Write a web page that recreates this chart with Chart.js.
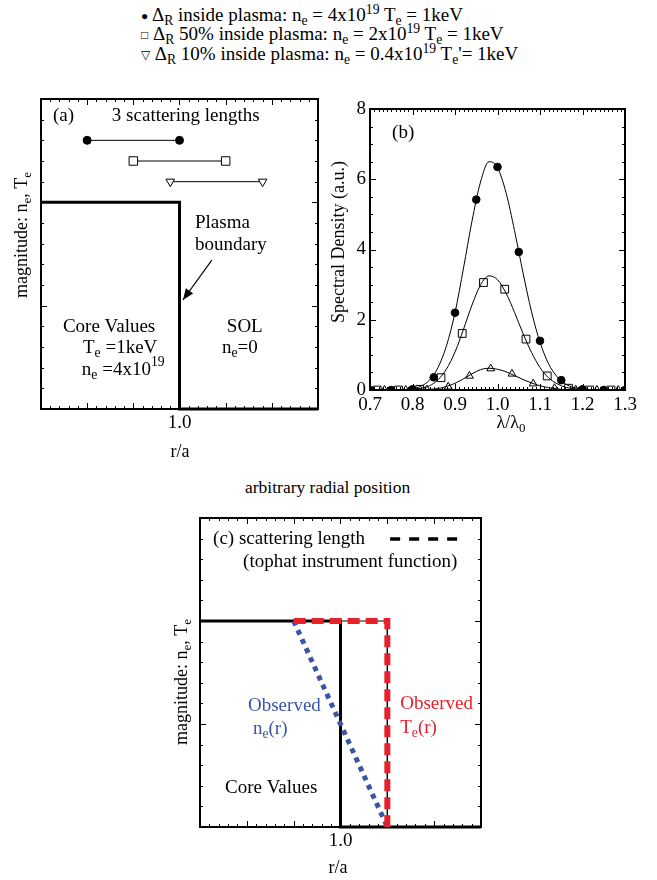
<!DOCTYPE html>
<html>
<head>
<meta charset="utf-8">
<script src="https://cdn.jsdelivr.net/npm/chart.js@4.4.1/dist/chart.umd.min.js"></script>
<style>
  body { margin: 0; background: #fff; }
  #fig { position: relative; width: 657px; height: 880px; font-family: "Liberation Serif", "Times New Roman", serif; color: #000; }
  #fig canvas { position: absolute; }
  .txt { position: absolute; font-size: 17.5px; white-space: nowrap; line-height: 18.5px; }
  .txt sub, .txt sup { font-size: 72%; line-height: 0; }
  .txt sub { vertical-align: -0.3em; }
  .txt sup { vertical-align: 0.5em; }
  .txt .mk { font-size: 12px; vertical-align: 0.1em; }
  #legend { font-size: 19px; }
</style>
</head>
<body>
<div id="fig">
  <div class="txt" id="legend" style="left:141px; top:6px;">
    <span class="mk">●</span> Δ<sub>R</sub> inside plasma: n<sub>e</sub> = 4x10<sup>19</sup> T<sub>e</sub> = 1keV<br>
    <span class="mk">□</span> Δ<sub>R</sub> 50% inside plasma: n<sub>e</sub> = 2x10<sup>19</sup> T<sub>e</sub> = 1keV<br>
    <span class="mk">▽</span> Δ<sub>R</sub> 10% inside plasma: n<sub>e</sub> = 0.4x10<sup>19</sup> T<sub>e</sub>'= 1keV
  </div>
  <div class="txt" style="left:245px; top:478px;">arbitrary radial position</div>
  <canvas id="chartA" width="335" height="390" style="left:0; top:80px;"></canvas>
  <canvas id="chartB" width="337" height="390" style="left:320px; top:90px;"></canvas>
  <canvas id="chartC" width="350" height="380" style="left:150px; top:500px;"></canvas>
</div>
<script>
// ---- panel (a): step profile + the three scattering lengths
const PROFILE_R = [0.4, 1.0, 1.0, 1.6];
const PROFILE_A = [2, 2, 0, 0];
const SPAN_IN_R = [0.6, 1.0];
const SPAN_HALF_R = [0.8, 1.2];
const SPAN_TENTH_R = [0.96, 1.36];
const SPAN_LEVELS = [2.6, 2.4, 2.2];
const ARROW_R = [1.14, 1.015];
const ARROW_Y = [1.44, 1.055];

// ---- panel (b): spectra
const LAMBDA_FIT = [0.70, 0.72, 0.74, 0.76, 0.78, 0.80, 0.82, 0.84, 0.86, 0.88, 0.90, 0.92, 0.94, 0.96, 0.98,
  1.00, 1.02, 1.04, 1.06, 1.08, 1.10, 1.12, 1.14, 1.16, 1.18, 1.20, 1.22, 1.24, 1.26, 1.28, 1.30];
const FIT_INSIDE = [0, 0, 0, 0, 0.01, 0.04, 0.11, 0.28, 0.64, 1.26, 2.20, 3.47, 4.81, 5.92, 6.50,
  6.33, 5.62, 4.54, 3.34, 2.23, 1.36, 0.75, 0.38, 0.17, 0.07, 0.03, 0.01, 0, 0, 0, 0];
const FIT_HALF = [0, 0, 0, 0, 0.01, 0.02, 0.05, 0.12, 0.29, 0.60, 1.08, 1.73, 2.42, 2.99, 3.25,
  3.14, 2.76, 2.21, 1.61, 1.07, 0.64, 0.35, 0.18, 0.08, 0.03, 0.01, 0, 0, 0, 0, 0];
const FIT_TENTH = [0, 0, 0, 0, 0, 0, 0.01, 0.02, 0.04, 0.10, 0.19, 0.32, 0.46, 0.58, 0.62,
  0.59, 0.52, 0.41, 0.30, 0.20, 0.12, 0.07, 0.03, 0.01, 0, 0, 0, 0, 0, 0, 0];
const LAMBDA_INSIDE = [0.70, 0.75, 0.80, 0.85, 0.90, 0.95, 1.00, 1.05, 1.10, 1.15, 1.20, 1.25, 1.30];
const DENS_INSIDE = [0, 0, 0.02, 0.36, 2.2, 5.42, 6.35, 3.93, 1.4, 0.28, 0.02, 0, 0];
const LAMBDA_HALF = [0.717, 0.767, 0.817, 0.867, 0.917, 0.967, 1.017, 1.067, 1.117, 1.167, 1.217, 1.267];
const DENS_HALF = [0, 0, 0.02, 0.35, 1.61, 3.06, 2.87, 1.45, 0.40, 0.05, 0, 0];
const LAMBDA_TENTH = [0.734, 0.784, 0.834, 0.884, 0.934, 0.984, 1.034, 1.084, 1.134, 1.184, 1.234, 1.284];
const DENS_TENTH = [0, 0, 0.01, 0.09, 0.40, 0.61, 0.46, 0.18, 0.05, 0.01, 0, 0];

// ---- panel (c): observed profiles
const PROFILE_C_R = [0.4, 1.0, 1.0, 1.6];
const PROFILE_C = [2, 2, 0, 0];
const TE_OBS_R = [0.8, 1.2, 1.2];
const TE_OBS = [2, 2, 0];
const NE_OBS_R = [0.8, 1.2];
const NE_OBS = [2, 0];
const KEY_R = [1.212, 1.532];
const KEY_Y = [2.796, 2.796];

// tick labels
const R_LABELS = ['1.0'];
const LAMBDA_LABELS = ['0.7', '0.8', '0.9', '1.0', '1.1', '1.2', '1.3'];
const DENS_LABELS = ['0', '2', '4', '6', '8'];

const FONT = '"Liberation Serif", "Times New Roman", serif';
const NOTE_SIZE = 19;
const TITLE_SIZE = 18;
const TICK_SIZE = 19;
const xy = (xs, ys) => xs.map((x, i) => ({ x: x, y: ys[i] }));
const flat = (xs, level) => xs.map(x => ({ x: x, y: level }));

// "n_{e}=4x10^{19}" -> pieces with sub / sup
function parseRich(s) {
  return s.split(/(_\{[^}]*\}|\^\{[^}]*\})/).filter(Boolean).map(p =>
    p.startsWith('_{') ? [p.slice(2, -1), 'sub'] : p.startsWith('^{') ? [p.slice(2, -1), 'sup'] : [p, '']);
}

function drawRich(ctx, s, x, y, size, color, align, rot) {
  const parts = parseRich(s);
  const fontFor = k => (k ? size * 0.72 : size) + 'px ' + FONT;
  let w = 0;
  parts.forEach(([t, k]) => { ctx.font = fontFor(k); w += ctx.measureText(t).width; });
  ctx.save();
  ctx.translate(x, y);
  ctx.rotate(rot || 0);
  ctx.fillStyle = color;
  ctx.textBaseline = 'middle';
  ctx.textAlign = 'left';
  let cx = align === 'center' ? -w / 2 : 0;
  parts.forEach(([t, k]) => {
    ctx.font = fontFor(k);
    const dy = k === 'sub' ? size * 0.3 : k === 'sup' ? -size * 0.4 : 0;
    ctx.fillText(t, cx, dy);
    cx += ctx.measureText(t).width;
  });
  ctx.restore();
}

// frame, inward ticks on all 4 sides, arrow heads, text notes
function decor(cfg) {
  return {
    id: 'decor',
    beforeDatasetsDraw(chart) {
      const { ctx, chartArea: a, scales: { x, y } } = chart;
      ctx.save();
      ctx.strokeStyle = '#000';
      ctx.lineWidth = 1;
      const marks = (scale, step, len, horizontal) => {
        const i0 = Math.ceil(scale.min / step - 1e-6), i1 = Math.floor(scale.max / step + 1e-6);
        for (let i = i0; i <= i1; i++) {
          const p = Math.round(scale.getPixelForValue(i * step)) + 0.5;
          ctx.beginPath();
          if (horizontal) {
            ctx.moveTo(p, a.bottom); ctx.lineTo(p, a.bottom - len);
            ctx.moveTo(p, a.top); ctx.lineTo(p, a.top + len);
          } else {
            ctx.moveTo(a.left, p); ctx.lineTo(a.left + len, p);
            ctx.moveTo(a.right, p); ctx.lineTo(a.right - len, p);
          }
          ctx.stroke();
        }
      };
      marks(x, cfg.xMinor, 3, true);
      marks(x, cfg.xMajor, 6, true);
      marks(y, cfg.yMinor, 3, false);
      marks(y, cfg.yMajor, 6, false);
      ctx.lineWidth = 2;
      ctx.strokeRect(a.left, a.top, a.right - a.left, a.bottom - a.top);
      ctx.restore();
    },
    afterDatasetsDraw(chart) {
      const { ctx, scales: { x, y } } = chart;
      chart.data.datasets.forEach(ds => {
        if (!ds.arrowHead) return;
        const [p, q] = ds.data.slice(-2);
        const x0 = x.getPixelForValue(p.x), y0 = y.getPixelForValue(p.y);
        const x1 = x.getPixelForValue(q.x), y1 = y.getPixelForValue(q.y);
        const ang = Math.atan2(y1 - y0, x1 - x0);
        ctx.save();
        ctx.fillStyle = '#000';
        ctx.beginPath();
        ctx.moveTo(x1, y1);
        ctx.lineTo(x1 - 12 * Math.cos(ang - 0.38), y1 - 12 * Math.sin(ang - 0.38));
        ctx.lineTo(x1 - 12 * Math.cos(ang + 0.38), y1 - 12 * Math.sin(ang + 0.38));
        ctx.closePath();
        ctx.fill();
        ctx.restore();
      });
      (cfg.notes || []).forEach(n =>
        drawRich(ctx, n.text, x.getPixelForValue(n.x), y.getPixelForValue(n.y), NOTE_SIZE, n.color || '#000', 'left', 0));
      (cfg.titles || []).forEach(t => drawRich(ctx, t.text, t.x, t.y, TITLE_SIZE, '#000', 'center', t.rot || 0));
    }
  };
}

function baseOptions(pad, yWidth, xHeight) {
  return {
    responsive: false,
    animation: false,
    events: [],
    layout: { padding: pad },
    plugins: { legend: { display: false }, tooltip: { enabled: false } },
    scales: {
      x: {
        type: 'linear',
        afterFit: s => { s.height = xHeight; },
        grid: { display: false, drawTicks: false },
        border: { display: false },
        ticks: { font: { family: FONT, size: TICK_SIZE }, color: '#000', maxRotation: 0, autoSkip: false }
      },
      y: {
        type: 'linear',
        afterFit: s => { s.width = yWidth; },
        grid: { display: false, drawTicks: false },
        border: { display: false },
        ticks: { font: { family: FONT, size: TICK_SIZE }, color: '#000', autoSkip: false }
      }
    }
  };
}

const rLabel = v => { const t = v.toFixed(1); return R_LABELS.includes(t) ? t : ''; };

// ---------- (a)
const optA = baseOptions({ top: 19, right: 17, left: 0, bottom: 0 }, 41, 61);
Object.assign(optA.scales.x, { min: 0.4, max: 1.6 });
Object.assign(optA.scales.x.ticks, { stepSize: 0.2, callback: rLabel, padding: 3 });
Object.assign(optA.scales.y, { min: 0, max: 3 });
optA.scales.y.ticks.display = false;

new Chart(document.getElementById('chartA'), {
  type: 'scatter',
  data: {
    datasets: [
      { data: xy(PROFILE_R, PROFILE_A), showLine: true, borderColor: '#000', borderWidth: 3, pointRadius: 0, clip: false },
      { data: flat(SPAN_IN_R, SPAN_LEVELS[0]), showLine: true, borderColor: '#000', borderWidth: 1,
        pointStyle: 'circle', pointRadius: 4, pointBackgroundColor: '#000', pointBorderColor: '#000' },
      { data: flat(SPAN_HALF_R, SPAN_LEVELS[1]), showLine: true, borderColor: '#000', borderWidth: 1,
        pointStyle: 'rect', pointRadius: 6, pointBackgroundColor: '#fff', pointBorderColor: '#000', pointBorderWidth: 1 },
      { data: flat(SPAN_TENTH_R, SPAN_LEVELS[2]), showLine: true, borderColor: '#000', borderWidth: 1,
        pointStyle: 'triangle', pointRotation: 180, pointRadius: 5, pointBackgroundColor: '#fff', pointBorderColor: '#000', pointBorderWidth: 1 },
      { data: xy(ARROW_R, ARROW_Y), arrowHead: true, showLine: true, borderColor: '#000', borderWidth: 1.2, pointRadius: 0 }
    ]
  },
  options: optA,
  plugins: [decor({
    xMinor: 0.04, xMajor: 0.2, yMinor: 0.2, yMajor: 1,
    notes: [
      { text: '(a)', x: 0.452, y: 2.836 },
      { text: '3 scattering lengths', x: 0.707, y: 2.836 },
      { text: 'Plasma', x: 1.067, y: 1.80 },
      { text: 'boundary', x: 1.067, y: 1.588 },
      { text: 'Core Values', x: 0.495, y: 0.794 },
      { text: 'T_{e} =1keV', x: 0.582, y: 0.59 },
      { text: 'n_{e} =4x10^{19}', x: 0.577, y: 0.378 },
      { text: 'SOL', x: 1.205, y: 0.794 },
      { text: 'n_{e}=0', x: 1.184, y: 0.59 }
    ],
    titles: [
      { text: 'magnitude: n_{e}, T_{e}', x: 22, y: 155, rot: -Math.PI / 2 },
      { text: 'r/a', x: 180, y: 372 }
    ]
  })]
});

// ---------- (b)
const optB = baseOptions({ top: 19, right: 32, left: 0, bottom: 0 }, 50, 90);
Object.assign(optB.scales.x, { min: 0.7, max: 1.3 });
Object.assign(optB.scales.x.ticks, { stepSize: 0.1, padding: 4,
  callback: v => { const t = v.toFixed(1); return LAMBDA_LABELS.includes(t) ? t : ''; } });
Object.assign(optB.scales.y, { min: 0, max: 8 });
Object.assign(optB.scales.y.ticks, { stepSize: 2, padding: 4,
  callback: v => { const t = String(Math.round(v)); return DENS_LABELS.includes(t) ? t : ''; } });

const fitLine = ys => ({ data: xy(LAMBDA_FIT, ys), showLine: true, borderColor: '#000', borderWidth: 1,
  pointRadius: 0, cubicInterpolationMode: 'monotone' });

new Chart(document.getElementById('chartB'), {
  type: 'scatter',
  data: {
    datasets: [
      fitLine(FIT_INSIDE),
      fitLine(FIT_HALF),
      fitLine(FIT_TENTH),
      { data: xy(LAMBDA_INSIDE, DENS_INSIDE), pointStyle: 'circle', pointRadius: 3.8,
        pointBackgroundColor: '#000', pointBorderColor: '#000' },
      { data: xy(LAMBDA_HALF, DENS_HALF), pointStyle: 'rect', pointRadius: 5.5,
        pointBackgroundColor: 'rgba(255,255,255,0)', pointBorderColor: '#000', pointBorderWidth: 1 },
      { data: xy(LAMBDA_TENTH, DENS_TENTH), pointStyle: 'triangle', pointRadius: 4.5,
        pointBackgroundColor: 'rgba(255,255,255,0)', pointBorderColor: '#000', pointBorderWidth: 1 }
    ]
  },
  options: optB,
  plugins: [decor({
    xMinor: 0.01, xMajor: 0.1, yMinor: 0.5, yMajor: 2,
    notes: [{ text: '(b)', x: 0.752, y: 7.31 }],
    titles: [
      { text: 'Spectral Density (a.u.)', x: 19, y: 152, rot: -Math.PI / 2 },
      { text: 'λ/λ_{0}', x: 191, y: 333 }
    ]
  })]
});

// ---------- (c)
const optC = baseOptions({ top: 18, right: 19, left: 0, bottom: 0 }, 50, 53);
Object.assign(optC.scales.x, { min: 0.4, max: 1.6 });
Object.assign(optC.scales.x.ticks, { stepSize: 0.2, callback: rLabel, padding: 3 });
Object.assign(optC.scales.y, { min: 0, max: 3 });
optC.scales.y.ticks.display = false;

new Chart(document.getElementById('chartC'), {
  type: 'scatter',
  data: {
    datasets: [
      { data: xy(TE_OBS_R, TE_OBS), showLine: true, borderColor: '#e8202a', borderWidth: 6,
        borderDash: [12, 6], pointRadius: 0, clip: false, order: 1 },
      { data: xy(NE_OBS_R, NE_OBS), showLine: true, borderColor: '#3b55a6', borderWidth: 5,
        borderDash: [5, 5], pointRadius: 0, clip: false, order: 2 },
      { data: xy(TE_OBS_R, TE_OBS), showLine: true, borderColor: '#000', borderWidth: 1, pointRadius: 0, order: 3 },
      { data: xy(PROFILE_C_R, PROFILE_C), showLine: true, borderColor: '#000', borderWidth: 3,
        pointRadius: 0, clip: false, order: 4 },
      { data: xy(KEY_R, KEY_Y), showLine: true, borderColor: '#000', borderWidth: 3.5,
        borderDash: [10, 9], pointRadius: 0, order: 5 }
    ]
  },
  options: optC,
  plugins: [decor({
    xMinor: 0.04, xMajor: 0.2, yMinor: 0.2, yMajor: 1,
    notes: [
      { text: '(c) scattering length', x: 0.456, y: 2.796 },
      { text: '(tophat instrument function)', x: 0.584, y: 2.573 },
      { text: 'Observed', x: 0.605, y: 1.175, color: '#3b55a6' },
      { text: 'n_{e}(r)', x: 0.626, y: 0.951, color: '#3b55a6' },
      { text: 'Observed', x: 1.255, y: 1.194, color: '#e8202a' },
      { text: 'T_{e}(r)', x: 1.255, y: 0.961, color: '#e8202a' },
      { text: 'Core Values', x: 0.507, y: 0.379 }
    ],
    titles: [
      { text: 'magnitude: n_{e}, T_{e}', x: 32, y: 182, rot: -Math.PI / 2 },
      { text: 'r/a', x: 188, y: 368 }
    ]
  })]
});
</script>
</body>
</html>
